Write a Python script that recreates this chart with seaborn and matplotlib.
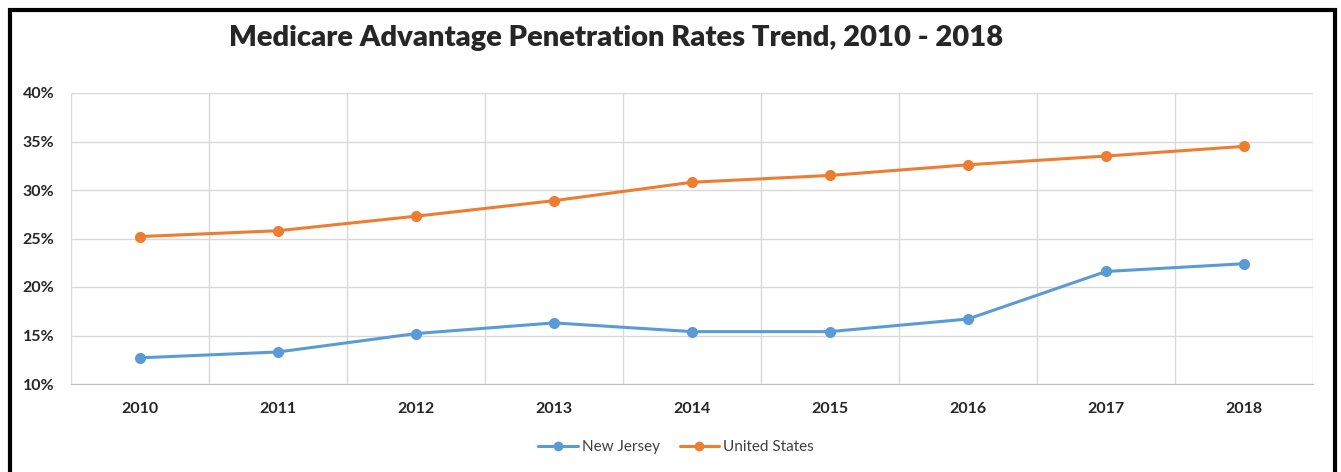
import pandas as pd
import matplotlib.pyplot as plt
import seaborn as sns
from matplotlib.patches import Rectangle
from matplotlib.ticker import FuncFormatter, FixedLocator


years = ["2010", "2011", "2012", "2013", "2014", "2015", "2016", "2017", "2018"]
new_jersey = [12.7, 13.3, 15.2, 16.3, 15.4, 15.4, 16.7, 21.6, 22.4]
united_states = [25.2, 25.8, 27.3, 28.9, 30.8, 31.5, 32.6, 33.5, 34.5]

df = pd.DataFrame({
    "year": years * 2,
    "rate": new_jersey + united_states,
    "region": ["New Jersey"] * len(years) + ["United States"] * len(years),
})

sns.set_style("white")
plt.rcParams["font.family"] = ["Lato", "DejaVu Sans"]

fig = plt.figure(figsize=(13.41, 4.72), dpi=100)
ax = fig.add_axes([71 / 1341, 1 - 384 / 472, (1313 - 71) / 1341, (384 - 93) / 472])

sns.lineplot(
    data=df, x="year", y="rate", hue="region",
    palette={"New Jersey": "#5B9BD5", "United States": "#ED7D31"},
    marker="o", markersize=8, markeredgewidth=0, linewidth=2.2,
    sort=False, ax=ax,
)

ax.set_xlim(-0.5, len(years) - 0.5)
ax.set_ylim(10, 40)
ax.set_yticks([10, 15, 20, 25, 30, 35, 40])
ax.yaxis.set_major_formatter(FuncFormatter(lambda v, p: f"{v:.0f}%"))
ax.xaxis.set_minor_locator(FixedLocator([i - 0.5 for i in range(len(years) + 1)]))
ax.grid(axis="y", which="major", color="#d9d9d9", linewidth=1)
ax.grid(axis="x", which="minor", color="#d9d9d9", linewidth=1)
ax.grid(axis="x", which="major", visible=False)
for s in ["top", "left", "right"]:
    ax.spines[s].set_visible(False)
ax.spines["bottom"].set_color("#bfbfbf")
ax.tick_params(axis="both", which="both", length=0)
ax.tick_params(axis="y", pad=12)
ax.tick_params(axis="x", pad=13)
for lab in ax.get_xticklabels() + ax.get_yticklabels():
    lab.set_fontweight("bold")
    lab.set_fontsize(11.5)
ax.set_xlabel("")
ax.set_ylabel("")

handles, labels = ax.get_legend_handles_labels()
for h in handles:
    h.set_markersize(7)
ax.legend_.remove()
fig.legend(handles, labels, loc="center", bbox_to_anchor=(676 / 1341, 1 - 447 / 472),
           ncol=2, frameon=False, fontsize=11, labelcolor="#404040",
           handlelength=2.6, columnspacing=1.3, handletextpad=0.25)

fig.text(616 / 1341, 1 - 38 / 472, "Medicare Advantage Penetration Rates Trend, 2010 - 2018",
         ha="center", va="center", fontsize=21, fontweight="heavy")

fig.patches.append(Rectangle((9.5 / 1341, -0.2), 1325 / 1341, 1.2 - 9.5 / 472,
                             transform=fig.transFigure, fill=False,
                             edgecolor="black", linewidth=3))

fig.savefig("out.png", dpi=100)
